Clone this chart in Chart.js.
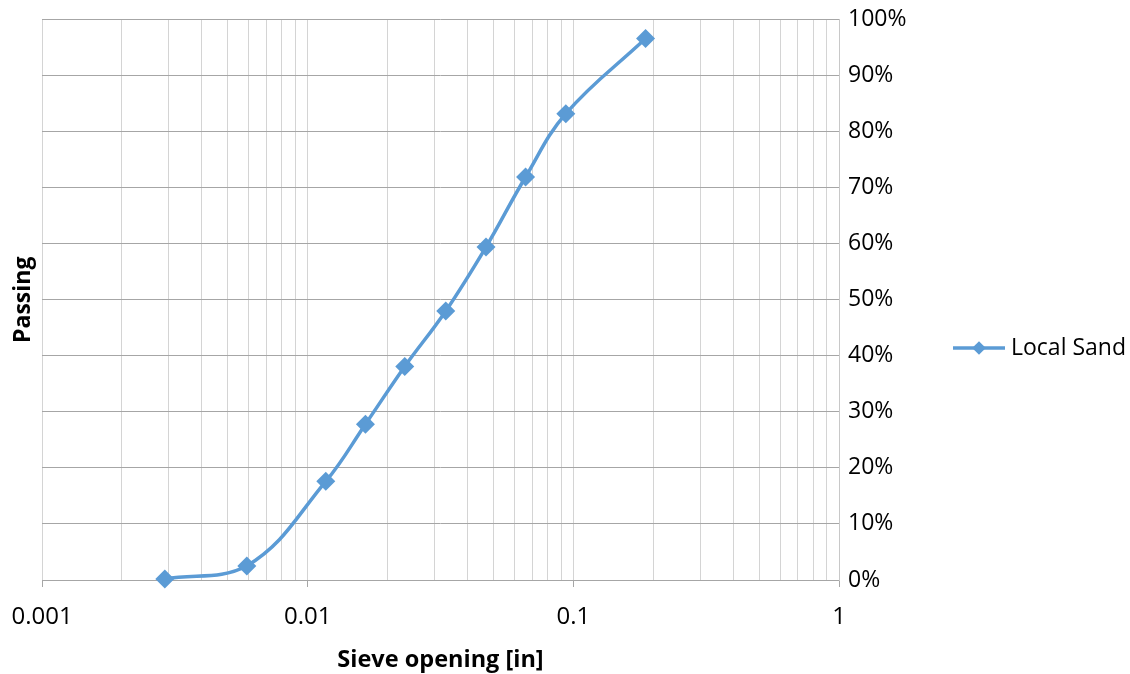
<!DOCTYPE html>
<html>
<head>
<meta charset="utf-8">
<title>Local Sand gradation</title>
<script src="https://cdn.jsdelivr.net/npm/chart.js@4/dist/chart.umd.min.js"></script>
<style>
  html, body { margin: 0; padding: 0; background: #fff; }
  canvas { display: block; }
</style>
</head>
<body>
<canvas id="gradationChart" width="1130" height="674"></canvas>
<script>
// sieve openings in inches (#200 .. #4) and percent passing
var sieveOpenings = [0.0029, 0.0059, 0.0117, 0.0165, 0.0232, 0.0331, 0.0469, 0.0661, 0.0937, 0.187];
var passingValues = [0.2, 2.5, 17.6, 27.8, 38.1, 48.0, 59.4, 71.9, 83.2, 96.6];
var seriesName = "Local Sand";
var xTickLabels = ["0.001", "0.01", "0.1", "1"];
var yTickValues = [0, 10, 20, 30, 40, 50, 60, 70, 80, 90, 100];

var lineColor = "#5b9bd5";
var fontFamily = "'Open Sans', 'Liberation Sans', sans-serif";

function isDecade(v) {
  var l = Math.log10(v);
  return Math.abs(l - Math.round(l)) < 1e-9;
}

// labels may overhang the plot, don't let them push the plot area around
function noLabelPadding(scale) {
  scale.paddingLeft = 0;
  scale.paddingRight = 0;
  scale.paddingTop = 0;
  scale.paddingBottom = 0;
}

var points = sieveOpenings.map(function (x, i) {
  return { x: x, y: passingValues[i] };
});

// legend drawn by hand: line with a diamond, like the office-style legend
var sideLegend = {
  id: "sideLegend",
  afterDraw: function (chart) {
    var ctx = chart.ctx;
    var y = 348;
    ctx.save();
    ctx.strokeStyle = lineColor;
    ctx.lineWidth = 3.5;
    ctx.beginPath();
    ctx.moveTo(953, y);
    ctx.lineTo(1005, y);
    ctx.stroke();
    ctx.fillStyle = lineColor;
    ctx.beginPath();
    ctx.moveTo(979, y - 6.8);
    ctx.lineTo(985.8, y);
    ctx.lineTo(979, y + 6.8);
    ctx.lineTo(972.2, y);
    ctx.closePath();
    ctx.fill();
    ctx.fillStyle = "#000";
    ctx.font = "23px " + fontFamily;
    ctx.textBaseline = "middle";
    ctx.textAlign = "left";
    ctx.fillText(seriesName, 1011, y);
    ctx.restore();
  }
};

var gradationChart = new Chart("gradationChart", {
  type: "line",
  data: {
    datasets: [{
      label: seriesName,
      data: points,
      borderColor: lineColor,
      backgroundColor: lineColor,
      borderWidth: 3.5,
      tension: 0.4,
      pointStyle: "rectRot",
      pointRadius: 9.5,
      pointHoverRadius: 9.5,
      pointBorderWidth: 0,
      clip: false
    }]
  },
  options: {
    responsive: false,
    animation: false,
    events: [],
    layout: {
      autoPadding: false,
      padding: { top: 19.5, right: 191, bottom: 0, left: 0 }
    },
    plugins: {
      legend: { display: false },
      tooltip: { enabled: false }
    },
    scales: {
      x: {
        type: "logarithmic",
        position: "bottom",
        min: 0.001,
        max: 1,
        afterBuildTicks: function (scale) {
          var ticks = [];
          for (var e = -3; e < 0; e++) {
            for (var m = 1; m < 10; m++) {
              ticks.push({ value: +(m * Math.pow(10, e)).toPrecision(3) });
            }
          }
          ticks.push({ value: 1 });
          scale.ticks = ticks;
        },
        afterFit: function (scale) {
          scale.height = 94;
          noLabelPadding(scale);
        },
        ticks: {
          autoSkip: false,
          maxRotation: 0,
          padding: 16,
          color: "#000",
          font: { family: fontFamily, size: 24 },
          callback: function (value) {
            if (!isDecade(value)) return "";
            var k = Math.round(Math.log10(value)) + 3;
            return xTickLabels[k];
          }
        },
        grid: {
          color: "#d4d4d4",
          lineWidth: 1,
          drawTicks: true,
          tickLength: 7,
          tickColor: function (ctx) {
            return ctx.tick && isDecade(ctx.tick.value) ? "#a6a6a6" : "rgba(0,0,0,0)";
          }
        },
        border: { display: true, color: "#a6a6a6", width: 1 },
        title: {
          display: true,
          text: "Sieve opening [in]",
          color: "#000",
          font: { family: fontFamily, size: 23.5, weight: "bold" },
          padding: { top: 5, bottom: 0 }
        }
      },
      y: {
        type: "linear",
        position: "right",
        min: 0,
        max: 100,
        afterBuildTicks: function (scale) {
          scale.ticks = yTickValues.map(function (v) { return { value: v }; });
        },
        afterFit: function (scale) {
          scale.width = 100;
          noLabelPadding(scale);
        },
        ticks: {
          padding: 9,
          color: "#000",
          font: { family: fontFamily, size: 23 },
          callback: function (value) { return value + "%"; }
        },
        grid: {
          color: "#a6a6a6",
          lineWidth: 1,
          drawTicks: false
        },
        border: { display: true, color: "#c8c8c8", width: 1 }
      },
      yTitle: {
        type: "linear",
        position: "left",
        display: true,
        afterFit: function (scale) {
          scale.width = 42;
          noLabelPadding(scale);
        },
        ticks: { display: false },
        grid: { display: false, drawTicks: false },
        border: { display: false },
        title: {
          display: true,
          text: "Passing",
          color: "#000",
          font: { family: fontFamily, size: 23, weight: "bold" },
          padding: { top: 10, bottom: 0 }
        }
      }
    }
  },
  plugins: [sideLegend]
});
</script>
</body>
</html>
